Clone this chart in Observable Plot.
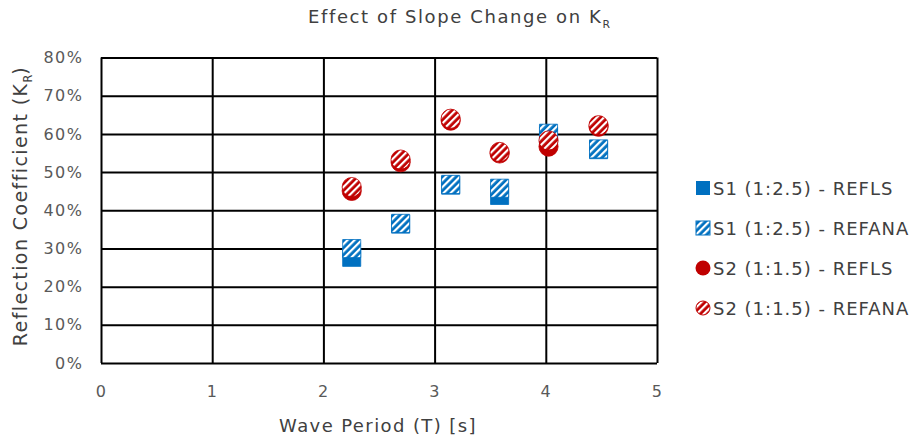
<!DOCTYPE html>
<html>
<head>
<meta charset="utf-8">
<script src="https://cdn.jsdelivr.net/npm/d3@7"></script>
<script src="https://cdn.jsdelivr.net/npm/@observablehq/plot@0.6"></script>
<style>
  body { margin: 0; background: #fff; }
  #wrap { position: relative; width: 918px; height: 442px; font-family: "DejaVu Sans", sans-serif; color: #404040; overflow: hidden; }
  #title { height: 40px; text-align: center; font-size: 18px; letter-spacing: 1.6px; line-height: 34px; padding-left: 0; }
  #ylab { position: absolute; left: 22px; top: 206px; transform: translate(-50%, -50%) rotate(-90deg); white-space: nowrap; font-size: 19px; letter-spacing: 1.4px; }
  #xlab { position: absolute; left: 378px; top: 425px; transform: translate(-50%, -50%); white-space: nowrap; font-size: 18px; letter-spacing: 1.4px; }
  #legend { position: absolute; left: 695px; top: 168px; font-size: 18px; letter-spacing: 1px; }
  #legend .row { height: 40px; display: flex; align-items: center; white-space: nowrap; }
  #legend svg { margin-right: 2px; }
  sub { font-size: 0.6em; letter-spacing: 0; }
</style>
</head>
<body>
<svg width="0" height="0" style="position:absolute">
  <defs>
    <pattern id="hatchBlue" patternUnits="userSpaceOnUse" width="5" height="5" patternTransform="rotate(45)">
      <rect width="5" height="5" fill="#0070C0"></rect>
      <rect x="0" y="0" width="2.2" height="5" fill="#ffffff"></rect>
    </pattern>
    <pattern id="hatchRed" patternUnits="userSpaceOnUse" width="5" height="5" patternTransform="rotate(45)">
      <rect width="5" height="5" fill="#C00000"></rect>
      <rect x="0" y="0" width="2.2" height="5" fill="#ffffff"></rect>
    </pattern>
  </defs>
</svg>
<div id="wrap">
  <div id="title">Effect of Slope Change on K<sub>R</sub></div>
  <div id="chart"></div>
  <div id="ylab">Reflection Coefficient (K<sub>R</sub>)</div>
  <div id="xlab">Wave Period (T) [s]</div>
  <div id="legend"></div>
</div>
<script>
const periods   = [2.25, 2.69, 3.14, 3.58, 4.02, 4.47];
const s1Refls   = [27.8, 36.5, 46.7, 44.0, 59.5, 56.0];
const s1Refana  = [30.1, 36.7, 46.9, 45.9, 60.3, 56.2];
const s2Refls   = [45.2, 52.7, 63.6, 55.0, 56.8, 62.0];
const s2Refana  = [46.2, 53.4, 64.1, 55.4, 58.4, 62.4];
const xTicks = [0, 1, 2, 3, 4, 5];
const yTicks = [0, 10, 20, 30, 40, 50, 60, 70, 80];
const seriesNames = ["S1 (1:2.5) - REFLS", "S1 (1:2.5) - REFANA", "S2 (1:1.5) - REFLS", "S2 (1:1.5) - REFANA"];

const rows = (vals) => periods.map((t, i) => ({t, v: vals[i]}));

const blue = "#0070C0", red = "#C00000";

const plot = Plot.plot({
  width: 918,
  height: 402,
  marginLeft: 101,
  marginRight: 261,
  marginTop: 17.5,
  marginBottom: 79,
  style: { fontFamily: "DejaVu Sans, sans-serif", fontSize: "16px", color: "#595959", background: "transparent", letterSpacing: "1.5px" },
  x: { domain: [0, 5], ticks: xTicks, tickFormat: d => String(d), label: null, tickSize: 0, tickPadding: 22 },
  y: { domain: [0, 80], ticks: yTicks, tickFormat: d => d + "%", label: null, tickSize: 0, tickPadding: 18 },
  marks: [
    Plot.gridX(xTicks, { stroke: "#000", strokeOpacity: 1, strokeWidth: 2 }),
    Plot.gridY(yTicks, { stroke: "#000", strokeOpacity: 1, strokeWidth: 2 }),
    Plot.dot(rows(s1Refls), { x: "t", y: "v", symbol: "square", r: 10.2, fill: blue, stroke: blue, strokeWidth: 0.8 }),
    Plot.dot(rows(s1Refana), { x: "t", y: "v", symbol: "square", r: 10.2, fill: "url(#hatchBlue)", stroke: blue, strokeWidth: 0.8 }),
    Plot.dot(rows(s2Refls), { x: "t", y: "v", symbol: "circle", r: 9.6, fill: red, stroke: red, strokeWidth: 0.8 }),
    Plot.dot(rows(s2Refana), { x: "t", y: "v", symbol: "circle", r: 9.6, fill: "url(#hatchRed)", stroke: red, strokeWidth: 0.8 })
  ]
});
document.getElementById("chart").appendChild(plot);

const legendMarks = [
  `<rect x="1" y="1" width="14" height="14" fill="${blue}"/>`,
  `<rect x="1" y="1" width="14" height="14" fill="url(#hatchBlue)" stroke="${blue}" stroke-width="1"/>`,
  `<circle cx="8" cy="8" r="7.5" fill="${red}"/>`,
  `<circle cx="8" cy="8" r="7" fill="url(#hatchRed)" stroke="${red}" stroke-width="1"/>`
];
const legend = document.getElementById("legend");
seriesNames.forEach((name, i) => {
  const row = document.createElement("div");
  row.className = "row";
  row.innerHTML = `<svg width="16" height="16">${legendMarks[i]}</svg><span>${name}</span>`;
  legend.appendChild(row);
});
</script>
</body>
</html>
